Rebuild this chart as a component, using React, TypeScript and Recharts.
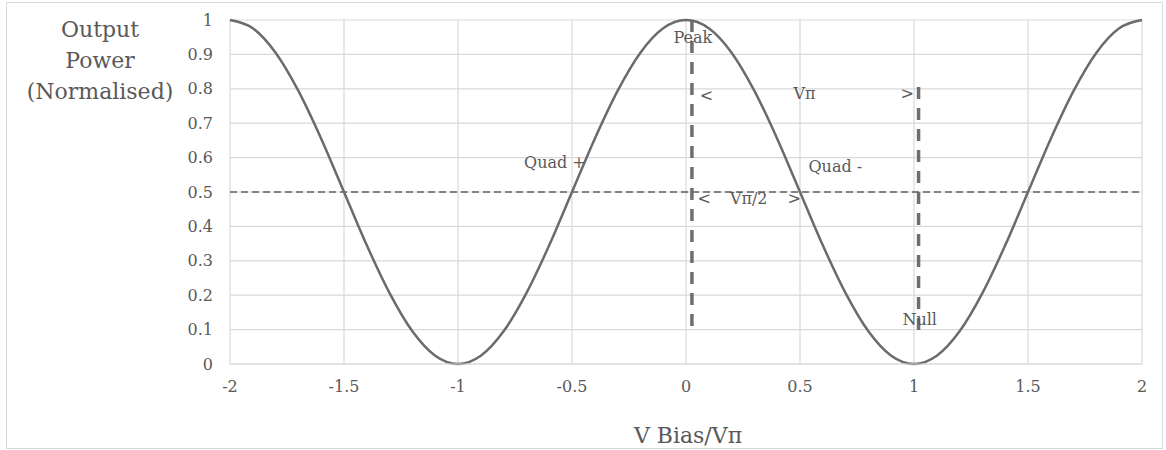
import { LineChart, Line, XAxis, YAxis, CartesianGrid, ReferenceLine, ReferenceDot } from 'recharts'

const V_BIAS = [
  -2, -1.9, -1.8, -1.7, -1.6, -1.5, -1.4, -1.3, -1.2, -1.1,
  -1, -0.9, -0.8, -0.7, -0.6, -0.5, -0.4, -0.3, -0.2, -0.1,
  0, 0.1, 0.2, 0.3, 0.4, 0.5, 0.6, 0.7, 0.8, 0.9,
  1, 1.1, 1.2, 1.3, 1.4, 1.5, 1.6, 1.7, 1.8, 1.9, 2,
]

const POWER = [
  1, 0.976, 0.905, 0.794, 0.655, 0.5, 0.345, 0.206, 0.095, 0.024,
  0, 0.024, 0.095, 0.206, 0.345, 0.5, 0.655, 0.794, 0.905, 0.976,
  1, 0.976, 0.905, 0.794, 0.655, 0.5, 0.345, 0.206, 0.095, 0.024,
  0, 0.024, 0.095, 0.206, 0.345, 0.5, 0.655, 0.794, 0.905, 0.976, 1,
]

const X_TICKS = [-2, -1.5, -1, -0.5, 0, 0.5, 1, 1.5, 2]
const Y_TICKS = [0, 0.1, 0.2, 0.3, 0.4, 0.5, 0.6, 0.7, 0.8, 0.9, 1]

// operating-point markers (bias, power) and their vertical extent
const PEAK_MARKER = { x: 0.026, top: 1, bottom: 0.09 }
const NULL_MARKER = { x: 1.02, top: 0.805, bottom: 0.08 }

const ANNOTATIONS = [
  { text: 'Peak', x: 0.03, y: 0.95 },
  { text: '<', x: 0.09, y: 0.78 },
  { text: 'Vπ', x: 0.52, y: 0.785 },
  { text: '>', x: 0.97, y: 0.785 },
  { text: 'Quad +', x: -0.575, y: 0.585 },
  { text: 'Quad -', x: 0.655, y: 0.573 },
  { text: '<', x: 0.08, y: 0.48 },
  { text: 'Vπ/2', x: 0.275, y: 0.48 },
  { text: '>', x: 0.475, y: 0.48 },
  { text: 'Null', x: 1.025, y: 0.13 },
]

const data = V_BIAS.map((v, i) => ({ v, p: POWER[i] }))

const FONT = '"DejaVu Serif", serif'
const TEXT = '#595959'
const GRID = '#d9d9d9'

export default function App() {
  return (
    <div style={{ position: 'absolute', left: 0, top: 0, width: 1166, height: 450, background: '#fff', fontFamily: FONT }}>
      <div
        style={{
          position: 'absolute',
          left: 6,
          top: 2,
          width: 1157,
          height: 447,
          border: `1px solid ${GRID}`,
          boxSizing: 'border-box',
        }}
      />
      <LineChart
        width={1166}
        height={450}
        data={data}
        margin={{ top: 20, right: 24, bottom: 56, left: 180 }}
        style={{ position: 'absolute', left: 0, top: 0 }}
      >
        <CartesianGrid stroke={GRID} strokeWidth={1.2} />
        <XAxis
          dataKey="v"
          type="number"
          domain={[-2, 2]}
          ticks={X_TICKS}
          height={30}
          tickLine={false}
          tickMargin={11}
          axisLine={{ stroke: GRID, strokeWidth: 1.2 }}
          tick={{ fill: TEXT, fontSize: 16, fontFamily: FONT }}
        />
        <YAxis
          type="number"
          domain={[0, 1]}
          ticks={Y_TICKS}
          width={50}
          tickLine={false}
          tickMargin={11}
          axisLine={false}
          tick={{ fill: TEXT, fontSize: 16, fontFamily: FONT }}
        />
        <ReferenceLine y={0.5} stroke="#606060" strokeWidth={1.5} strokeDasharray="7 4" />
        <ReferenceLine
          segment={[{ x: PEAK_MARKER.x, y: PEAK_MARKER.top }, { x: PEAK_MARKER.x, y: PEAK_MARKER.bottom }]}
          stroke="#6e6e6e"
          strokeWidth={3.5}
          strokeDasharray="12 9"
        />
        <ReferenceLine
          segment={[{ x: NULL_MARKER.x, y: NULL_MARKER.top }, { x: NULL_MARKER.x, y: NULL_MARKER.bottom }]}
          stroke="#6e6e6e"
          strokeWidth={3.5}
          strokeDasharray="12 9"
        />
        <Line
          dataKey="p"
          type="monotone"
          stroke="#6b6b6b"
          strokeWidth={2.5}
          dot={false}
          activeDot={false}
          isAnimationActive={false}
        />
        {ANNOTATIONS.map((a, i) => (
          <ReferenceDot
            key={i}
            x={a.x}
            y={a.y}
            r={0}
            shape={(props: any) => (
              <text
                x={props.cx}
                y={props.cy}
                textAnchor="middle"
                dominantBaseline="central"
                fill={TEXT}
                fontSize={16}
                fontFamily={FONT}
              >
                {a.text}
              </text>
            )}
          />
        ))}
      </LineChart>
      <svg width={1166} height={450} style={{ position: 'absolute', left: 0, top: 0, pointerEvents: 'none' }}>
        <text textAnchor="middle" fill={TEXT} fontSize={22} fontFamily={FONT}>
          <tspan x={100} y={37}>Output</tspan>
          <tspan x={100} y={68}>Power</tspan>
          <tspan x={100} y={99}>(Normalised)</tspan>
        </text>
        <text x={688} y={443} textAnchor="middle" fill={TEXT} fontSize={22} fontFamily={FONT}>
          V Bias/Vπ
        </text>
      </svg>
    </div>
  )
}
